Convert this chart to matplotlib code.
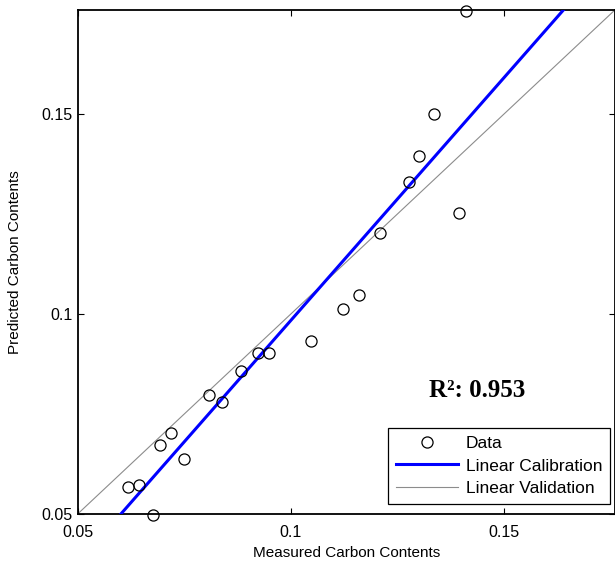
import numpy as np
import matplotlib
matplotlib.use("Agg")
import matplotlib.pyplot as plt

plt.rcParams["font.family"] = ["Liberation Sans", "DejaVu Sans"]

# measured vs predicted carbon contents
measured = [0.1411, 0.1335, 0.1300, 0.1277, 0.1394, 0.1208, 0.1160, 0.1123,
            0.1047, 0.0949, 0.0923, 0.0883, 0.0808, 0.0839, 0.0718, 0.0692,
            0.0748, 0.0617, 0.0643, 0.0677]
predicted = [0.1758, 0.1500, 0.1394, 0.1329, 0.1252, 0.1203, 0.1048, 0.1013,
             0.0931, 0.0901, 0.0901, 0.0856, 0.0796, 0.0779, 0.0702, 0.0673,
             0.0636, 0.0568, 0.0571, 0.0496]
calib_slope = 1.214
calib_intercept = -0.0230
r2 = 0.953
ticks = [0.05, 0.1, 0.15]
tick_labels = ["0.05", "0.1", "0.15"]
lim = (0.05, 0.176)

fig = plt.figure(figsize=(6.15, 5.65), dpi=100)
ax = fig.add_axes([0.1265, 0.0905, 0.8735, 0.892])

ax.plot(measured, predicted, "o", mfc="none", mec="black", ms=8, mew=0.9,
        label="Data", clip_on=False, zorder=4)
xs = np.array(lim)
ax.plot(xs, calib_slope * xs + calib_intercept, color="#0000ff", lw=2.2,
        label="Linear Calibration", zorder=3)
ax.plot(xs, xs, color="#8c8c8c", lw=0.8, label="Linear Validation", zorder=2)

ax.set_xlim(lim)
ax.set_ylim(lim)
ax.set_xticks(ticks)
ax.set_xticklabels(tick_labels)
ax.set_yticks(ticks)
ax.set_yticklabels(tick_labels)
ax.tick_params(direction="in", top=True, right=True, length=4, width=0.8,
               labelsize=11.5)
ax.tick_params(axis="x", pad=8)
ax.tick_params(axis="y", pad=4)
for s in ax.spines.values():
    s.set_linewidth(1.3)

ax.set_xlabel("Measured Carbon Contents", fontsize=11, labelpad=4)
ax.set_ylabel("Predicted Carbon Contents", fontsize=11, labelpad=14)

ax.text(0.1437, 0.0808, "R\u00b2: %.3f" % r2, family="Liberation Serif",
        weight="bold", fontsize=18, ha="center", va="center")

leg = ax.legend(loc="lower right", bbox_to_anchor=(0.991, 0.02),
                fontsize=12.5, fancybox=False, framealpha=1,
                edgecolor="black", handlelength=3.6, borderpad=0.45,
                labelspacing=0.42, handletextpad=0.45, borderaxespad=0)
leg.get_frame().set_linewidth(0.9)

fig.savefig("out.png", dpi=100)
